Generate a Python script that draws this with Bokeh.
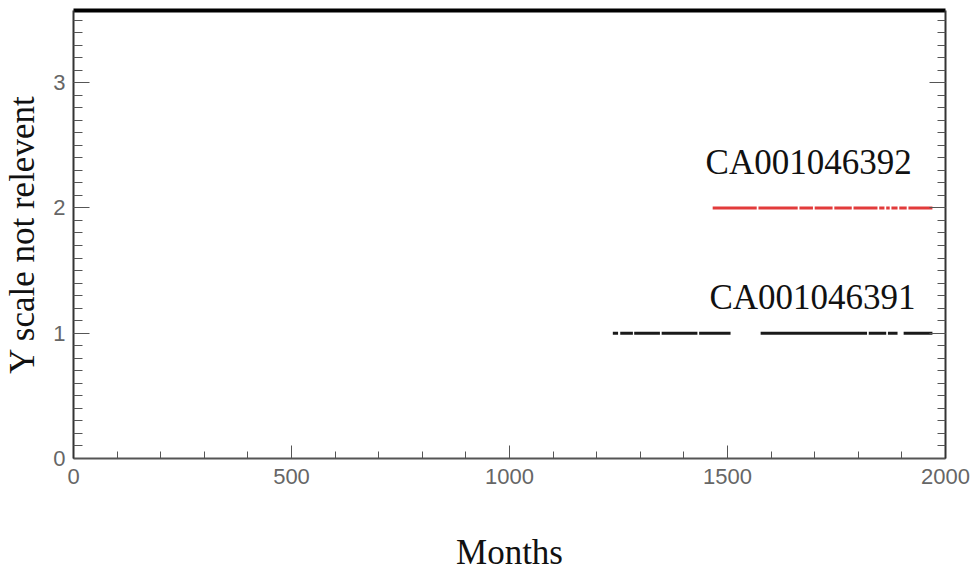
from bokeh.plotting import figure
from bokeh.models import Range1d, SingleIntervalTicker, FixedTicker, LinearAxis, ColumnDataSource
from bokeh.embed import file_html
from bokeh.resources import INLINE
from bokeh.core.properties import value

# Station identifiers and plotting levels
stations = ["CA001046391", "CA001046392"]
levels = [1, 2]
label_x = [1695, 1686]
label_y = [1.288, 2.36]

# Periods with data (months) for station CA001046391 (level 1)
s1_start = [1237, 1254, 1286, 1349, 1435, 1576, 1824, 1868, 1904]
s1_end = [1249, 1283, 1345, 1431, 1507, 1820, 1864, 1890, 1970]

# Periods with data (months) for station CA001046392 (level 2)
s2_start = [1466, 1571, 1665, 1700, 1745, 1789, 1848, 1864, 1876, 1894, 1915]
s2_end = [1567, 1661, 1696, 1741, 1785, 1844, 1860, 1872, 1890, 1911, 1970]

x_ticks_interval = 500
y_ticks_interval = 1
y_tick_values = [0, 1, 2, 3]

p = figure(width=976, height=577, output_backend="svg", toolbar_location=None,
           x_range=Range1d(0, 2000), y_range=Range1d(0, 3.576),
           min_border_left=72, min_border_right=31, min_border_top=10, min_border_bottom=119)
p.xgrid.visible = False
p.ygrid.visible = False
p.outline_line_color = None
p.background_fill_color = "white"
p.border_fill_color = "white"

src1 = ColumnDataSource(dict(x0=s1_start, x1=s1_end,
                             y=[levels[0]] * len(s1_start)))
src2 = ColumnDataSource(dict(x0=s2_start, x1=s2_end,
                             y=[levels[1]] * len(s2_start)))
p.segment(x0="x0", y0="y", x1="x1", y1="y", source=src1,
          line_color="#1a1a1a", line_width=3)
p.segment(x0="x0", y0="y", x1="x1", y1="y", source=src2,
          line_color="#e23b3b", line_width=3)

lab = ColumnDataSource(dict(x=label_x, y=label_y, t=stations))
p.text(x="x", y="y", text="t", source=lab, text_align="center",
       text_baseline="alphabetic", text_font=value("Liberation Serif"),
       text_font_size="35px", text_color="#111111")

# Bottom axis
xa = p.xaxis[0]
xa.ticker = SingleIntervalTicker(interval=x_ticks_interval, num_minor_ticks=5)
xa.axis_label = "Months"
xa.axis_label_text_font = "Liberation Serif"
xa.axis_label_text_font_size = "35px"
xa.axis_label_text_font_style = "normal"
xa.axis_label_text_color = "#111111"
xa.axis_label_standoff = 46
xa.major_label_text_font = "Liberation Sans"
xa.major_label_text_font_size = "22px"
xa.major_label_text_color = "#666666"
xa.major_label_standoff = 10
xa.major_tick_in = 13
xa.major_tick_out = 0
xa.minor_tick_in = 7
xa.minor_tick_out = 0
xa.axis_line_color = "#555555"
xa.axis_line_width = 2
xa.major_tick_line_color = "#555555"
xa.minor_tick_line_color = "#555555"

# Left axis
ya = p.yaxis[0]
ya.ticker = SingleIntervalTicker(interval=y_ticks_interval, num_minor_ticks=10)
ya.axis_label = "Y scale not relevent"
ya.axis_label_text_font = "Liberation Serif"
ya.axis_label_text_font_size = "35px"
ya.axis_label_text_font_style = "normal"
ya.axis_label_text_color = "#111111"
ya.axis_label_standoff = 8
ya.major_label_text_font = "Liberation Sans"
ya.major_label_text_font_size = "22px"
ya.major_label_text_color = "#666666"
ya.major_label_standoff = 8
ya.major_label_orientation = "horizontal"
ya.major_tick_in = 16
ya.major_tick_out = 0
ya.minor_tick_in = 9
ya.minor_tick_out = 0
ya.axis_line_color = "#333333"
ya.axis_line_width = 2
ya.major_tick_line_color = "#555555"
ya.minor_tick_line_color = "#555555"

# Right axis (ticks only, no labels)
ra = LinearAxis(ticker=SingleIntervalTicker(interval=y_ticks_interval, num_minor_ticks=10))
ra.major_label_overrides = {v: "" for v in y_tick_values}
ra.major_label_standoff = 0
ra.major_tick_in = 16
ra.major_tick_out = 0
ra.minor_tick_in = 8
ra.minor_tick_out = 0
ra.axis_line_color = "#333333"
ra.axis_line_width = 2
ra.major_tick_line_color = "#555555"
ra.minor_tick_line_color = "#555555"
p.add_layout(ra, "right")

# Thick top border (axis without ticks)
ta = LinearAxis(ticker=FixedTicker(ticks=[]))
ta.major_tick_in = 0
ta.major_tick_out = 0
ta.minor_tick_in = 0
ta.minor_tick_out = 0
ta.major_label_standoff = 0
ta.axis_line_color = "black"
ta.axis_line_width = 4
p.add_layout(ta, "above")

open("out.html", "w").write(file_html(p, INLINE))
